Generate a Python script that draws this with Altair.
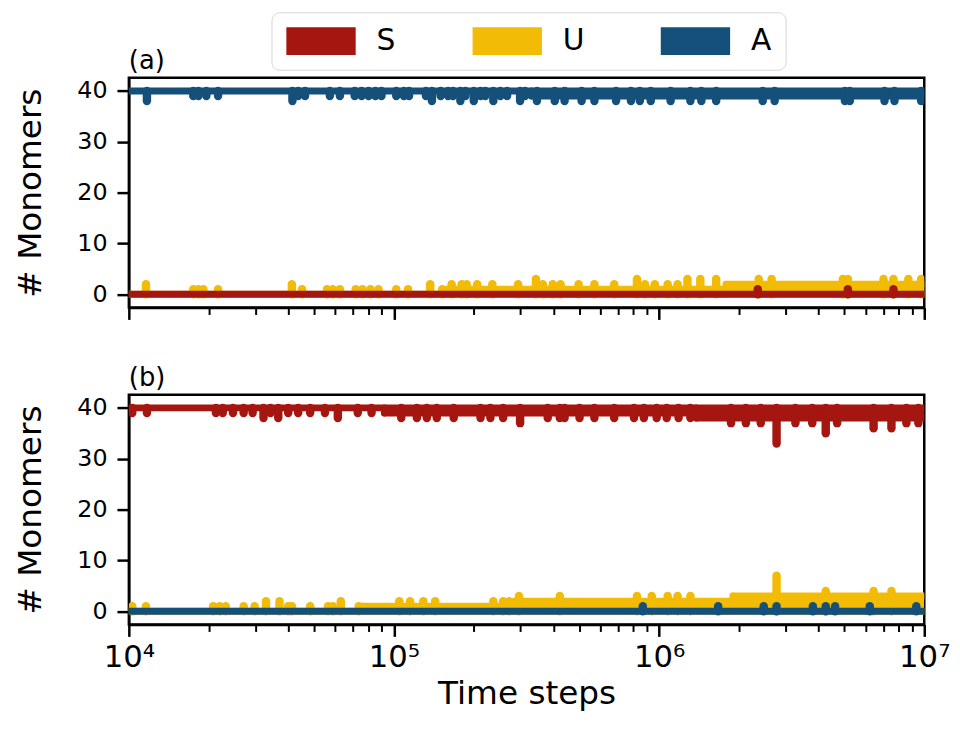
import altair as alt
import pandas as pd

# ---------------- data ----------------
# Each series: constant level, dense-fluctuation envelopes (t_start, t_end, level),
# and individual excursions (time step, monomer count).
A_A_BASE = 40
A_A_BANDS = [(3.3e5, 1e7, 39)]
A_A_SPIKES = [(1.17e4, 38), (1.75e4, 39), (1.83e4, 39), (1.96e4, 39), (2.17e4, 39),
              (4.14e4, 38), (4.35e4, 39), (4.62e4, 39), (5.73e4, 39), (6.25e4, 39),
              (7.11e4, 39), (7.55e4, 39), (8.02e4, 39), (8.51e4, 39), (8.97e4, 39),
              (1.02e5, 39), (1.09e5, 39), (1.14e5, 39), (1.32e5, 39), (1.39e5, 38),
              (1.50e5, 39), (1.60e5, 39), (1.67e5, 39), (1.78e5, 38), (1.86e5, 39),
              (2.00e5, 38), (2.12e5, 39), (2.21e5, 39), (2.37e5, 38), (2.52e5, 39),
              (2.67e5, 39), (2.99e5, 38), (3.12e5, 39), (3.46e5, 38), (4.04e5, 38),
              (4.40e5, 38), (5.10e5, 38), (5.70e5, 38), (6.88e5, 38), (7.83e5, 38),
              (8.46e5, 38), (9.30e5, 38), (1.105e6, 38), (1.312e6, 38), (1.443e6, 38),
              (1.641e6, 38), (2.459e6, 38), (2.727e6, 38), (5.02e6, 38), (5.24e6, 38),
              (7.08e6, 38), (7.72e6, 38), (9.73e6, 38)]

U_A_BASE = 0
U_A_BANDS = [(1.58e5, 1.79e6, 1), (1.79e6, 1e7, 2)]
U_A_SPIKES = [(1.16e4, 2), (1.75e4, 1), (1.83e4, 1), (1.91e4, 1), (2.17e4, 1),
              (4.12e4, 2), (4.50e4, 1), (5.59e4, 1), (5.88e4, 1), (6.25e4, 1),
              (7.17e4, 1), (7.61e4, 1), (8.15e4, 1), (8.74e4, 1), (1.02e5, 1),
              (1.13e5, 1), (1.37e5, 2), (1.52e5, 1), (1.65e5, 2), (1.80e5, 2),
              (1.88e5, 2), (2.06e5, 2), (2.35e5, 2), (2.94e5, 2), (3.43e5, 3),
              (3.64e5, 2), (3.97e5, 2), (4.25e5, 2), (4.97e5, 2), (5.70e5, 2),
              (6.77e5, 2), (8.25e5, 3), (8.84e5, 2), (9.63e5, 2), (1.077e6, 2),
              (1.174e6, 2), (1.279e6, 3), (1.430e6, 3), (1.641e6, 3), (2.375e6, 3),
              (2.657e6, 3), (4.93e6, 3), (5.15e6, 3), (7.02e6, 3), (7.65e6, 3),
              (8.71e6, 3), (9.73e6, 3)]

S_A_BASE = 0
S_A_BANDS = []
S_A_SPIKES = [(2.355e6, 1), (5.15e6, 1), (7.65e6, 1)]

S_B_BASE = 40
S_B_BANDS = [(9.2e4, 1.38e6, 39), (1.38e6, 1e7, 38)]
S_B_SPIKES = [(1.03e4, 39), (1.17e4, 39), (2.13e4, 39), (2.26e4, 39), (2.47e4, 39),
              (2.71e4, 39), (2.93e4, 39), (3.22e4, 38), (3.42e4, 39), (3.66e4, 38),
              (3.99e4, 39), (4.35e4, 39), (4.83e4, 39), (5.49e4, 39), (6.14e4, 38),
              (7.30e4, 39), (8.23e4, 39), (1.065e5, 38), (1.22e5, 38), (1.33e5, 38),
              (1.45e5, 38), (1.68e5, 38), (2.12e5, 38), (2.31e5, 38), (2.58e5, 38),
              (2.99e5, 37), (3.80e5, 38), (4.22e5, 38), (4.40e5, 38), (5.01e5, 38),
              (5.70e5, 38), (6.77e5, 38), (8.04e5, 38), (8.76e5, 38), (9.79e5, 38),
              (1.068e6, 38), (1.184e6, 38), (1.312e6, 38), (1.867e6, 37), (2.124e6, 37),
              (2.417e6, 37), (2.773e6, 33), (3.266e6, 37), (3.78e6, 37), (4.25e6, 35),
              (4.69e6, 37), (6.44e6, 36), (7.52e6, 36), (8.56e6, 37), (9.5e6, 37)]

U_B_BASE = 0
U_B_BANDS = [(7.55e4, 2.84e5, 1), (2.84e5, 1.90e6, 2), (1.90e6, 1e7, 3)]
U_B_SPIKES = [(1.03e4, 1), (1.16e4, 1), (2.08e4, 1), (2.20e4, 1), (2.32e4, 1),
              (2.71e4, 1), (2.98e4, 1), (3.29e4, 2), (3.70e4, 2), (3.99e4, 1),
              (4.12e4, 1), (4.83e4, 1), (5.64e4, 1), (5.88e4, 1), (6.30e4, 2),
              (7.36e4, 1), (1.047e5, 2), (1.15e5, 2), (1.29e5, 2), (1.43e5, 2),
              (2.37e5, 2), (2.58e5, 2), (2.72e5, 2), (2.96e5, 3), (4.22e5, 3),
              (8.25e5, 3), (9.38e5, 3), (1.077e6, 3), (1.174e6, 3), (1.312e6, 3),
              (2.773e6, 7), (4.25e6, 4), (6.44e6, 4), (7.52e6, 4)]

A_B_BASE = 0
A_B_BANDS = []
A_B_SPIKES = [(8.68e5, 1), (1.670e6, 1), (2.480e6, 1), (2.773e6, 1), (3.80e6, 1),
              (4.25e6, 1), (4.61e6, 1), (6.23e6, 1), (9.33e6, 1)]

SERIES = ["S", "U", "A"]
COLORS = ["#a51611", "#f2bb05", "#15507b"]
T_MIN, T_MAX = 1e4, 1e7
Y_TICKS = [0, 10, 20, 30, 40]
X_MAJOR = [1e4, 1e5, 1e6, 1e7]
X_LABELS = ["10\u2074", "10\u2075", "10\u2076", "10\u2077"]
X_TICKS = [m * d for d in [1e4, 1e5, 1e6] for m in range(1, 10)] + [1e7]

PANEL_A = {"U": (U_A_BASE, U_A_BANDS, U_A_SPIKES),
           "S": (S_A_BASE, S_A_BANDS, S_A_SPIKES),
           "A": (A_A_BASE, A_A_BANDS, A_A_SPIKES)}
PANEL_B = {"U": (U_B_BASE, U_B_BANDS, U_B_SPIKES),
           "S": (S_B_BASE, S_B_BANDS, S_B_SPIKES),
           "A": (A_B_BASE, A_B_BANDS, A_B_SPIKES)}

FONT = "DejaVu Sans"
LW = 7       # line width of the constant level and band edges
SW = 8.5     # line width of single excursions


def tables(panel):
    rules, rects = [], []
    for name in ["U", "S", "A"]:  # drawing order
        base, bands, spikes = panel[name]
        rules.append(dict(series=name, w=LW, t=T_MIN, t2=T_MAX, y=base, y2=base))
        for t0, t1, lv in bands:
            rects.append(dict(series=name, t=t0, t2=t1, y=base, y2=lv))
            rules.append(dict(series=name, w=LW, t=t0, t2=t1, y=lv, y2=lv))
            rules.append(dict(series=name, w=LW, t=t0, t2=t0, y=base, y2=lv))
        for t, v in spikes:
            rules.append(dict(series=name, w=SW, t=t, t2=t, y=base, y2=v))
    return pd.DataFrame(rules), pd.DataFrame(rects)


major_test = " || ".join(f"datum.value == {int(v)}" for v in X_MAJOR)
label_expr = " : ".join(f"datum.value == {int(v)} ? '{lab}'" for v, lab in zip(X_MAJOR, X_LABELS)) + " : ''"

xscale = alt.Scale(type="log", domain=[T_MIN, T_MAX], nice=False)
yscale = alt.Scale(domain=[-2.6, 42.6], nice=False, zero=False)
cscale = alt.Scale(domain=SERIES, range=COLORS)

legend = alt.Legend(title=None, orient="none", legendX=144, legendY=-66,
                    direction="horizontal",
                    symbolType="M-2.5,-1L2.5,-1L2.5,1L-2.5,1Z", symbolSize=784,
                    symbolStrokeWidth=0, symbolOffset=21,
                    labelFontSize=30, labelFont=FONT,
                    labelOffset=41, columnPadding=76, padding=14,
                    strokeColor="#d4d4d4", cornerRadius=8, fillColor="white")


def panel_chart(panel, title, bottom):
    rules, rects = tables(panel)
    xaxis = alt.Axis(values=X_TICKS, labels=bottom, labelExpr=label_expr,
                     labelFontSize=31, labelFont=FONT, labelOverlap=False, labelFlush=False,
                     labelPadding=6,
                     tickSize={"condition": {"test": major_test, "value": 12}, "value": 7},
                     tickWidth={"condition": {"test": major_test, "value": 2.5}, "value": 2},
                     title="Time steps" if bottom else None, titleFontSize=33,
                     titleFont=FONT, titleFontWeight="normal", titlePadding=6,
                     grid=False, domainWidth=2.5, domainColor="black", tickColor="black")
    yaxis = alt.Axis(values=Y_TICKS, title="# Monomers", titleFontSize=33, titleFont=FONT,
                     titleFontWeight="normal", labelFontSize=24, labelFont=FONT,
                     tickSize=12, tickWidth=2.5, labelPadding=10, titlePadding=30,
                     grid=False, domainWidth=2.5, domainColor="black", tickColor="black")
    x = alt.X("t:Q", scale=xscale, axis=xaxis)
    y = alt.Y("y:Q", scale=yscale, axis=yaxis)
    band = alt.Chart(rects).mark_rect(clip=True).encode(
        x=x, x2="t2:Q", y=y, y2="y2:Q",
        color=alt.Color("series:N", scale=cscale, legend=legend))
    lines = alt.Chart(rules).mark_rule(strokeCap="round", clip=True).encode(
        x=x, x2="t2:Q", y=y, y2="y2:Q",
        color=alt.Color("series:N", scale=cscale, legend=legend),
        strokeWidth=alt.StrokeWidth("w:Q", scale=None))
    return alt.layer(band, lines).properties(
        width=803, height=232,
        title=alt.TitleParams(title, anchor="start", frame="group", fontSize=26,
                              fontWeight="normal", font=FONT, offset=4))


chart = alt.vconcat(panel_chart(PANEL_A, "(a)", False),
                    panel_chart(PANEL_B, "(b)", True),
                    spacing=88, bounds="flush").properties(
    padding={"left": 5, "top": 0, "right": 0, "bottom": 0}
).configure_view(stroke="black", strokeWidth=2.5).configure_axis(
    labelColor="black", titleColor="black")

chart.save("out.html", embed_options={"renderer": "svg", "actions": False})
